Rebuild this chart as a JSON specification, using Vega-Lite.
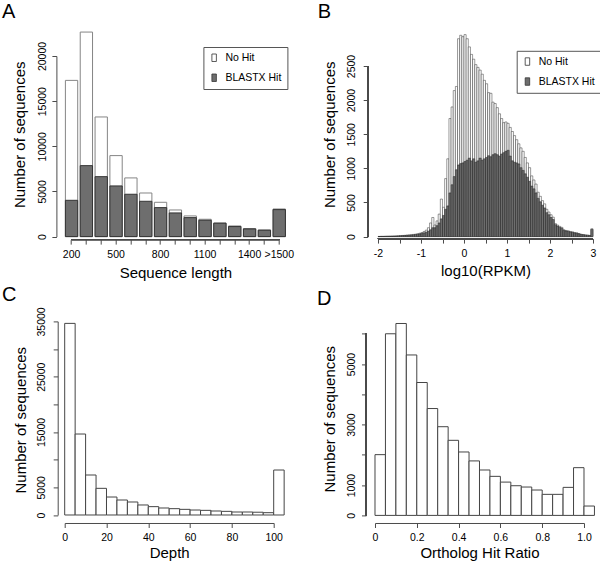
{
  "$schema": "https://vega.github.io/schema/vega-lite/v6.json",
  "background": "white",
  "padding": {"left": 1.7, "top": 2, "right": 2, "bottom": 2},
  "config": {
    "font": "Liberation Sans",
    "view": {"stroke": null},
    "axis": {
      "grid": false, "domainColor": "#4a4a4a", "tickColor": "#4a4a4a", "domainWidth": 1, "tickWidth": 1,
      "tickSize": 4.5, "labelColor": "black", "titleColor": "black",
      "labelFont": "Liberation Sans", "titleFont": "Liberation Sans",
      "labelFontSize": 10.5, "titleFontSize": 15, "titleFontWeight": "normal",
      "labelFlush": false, "labelOverlap": false, "labelBaseline": "alphabetic",
      "titleBaseline": "alphabetic", "titleAlign": "center"
    },
    "title": {"fontSize": 20, "fontWeight": "normal", "anchor": "start", "frame": "group", "baseline": "alphabetic", "color": "black", "font": "Liberation Sans"},
    "legend": {
      "labelFont": "Liberation Sans", "labelFontSize": 10.5, "labelColor": "black",
      "strokeColor": "#555", "fillColor": "white", "padding": 5.5, "rowPadding": 8, "labelOffset": 6,
      "symbolType": "M-0.6,-1H0.6V1H-0.6Z", "symbolSize": 56, "symbolStrokeColor": "#333", "symbolStrokeWidth": 0.8, "symbolOpacity": 1
    }
  },
  "datasets": {
    "lengths": [
      {"len": "200", "total": 17300, "hit": 4020},
      {"len": "300", "total": 22650, "hit": 7860},
      {"len": "400", "total": 13250, "hit": 6640},
      {"len": "500", "total": 8970, "hit": 5610},
      {"len": "600", "total": 6500, "hit": 4690},
      {"len": "700", "total": 4830, "hit": 3910},
      {"len": "800", "total": 3800, "hit": 3210},
      {"len": "900", "total": 2950, "hit": 2620},
      {"len": "1000", "total": 2290, "hit": 2100},
      {"len": "1100", "total": 1920, "hit": 1810},
      {"len": "1200", "total": 1510, "hit": 1480},
      {"len": "1300", "total": 1180, "hit": 1110},
      {"len": "1400", "total": 890, "hit": 850},
      {"len": "1500", "total": 740, "hit": 700},
      {"len": ">1500", "total": 3060, "hit": 2990}
    ],
    "rpkm": [
      {"lo": -2.00, "hi": -1.95, "total": 2, "hit": 2},
      {"lo": -1.95, "hi": -1.90, "total": 3, "hit": 3},
      {"lo": -1.90, "hi": -1.85, "total": 3, "hit": 3},
      {"lo": -1.85, "hi": -1.80, "total": 4, "hit": 4},
      {"lo": -1.80, "hi": -1.75, "total": 5, "hit": 5},
      {"lo": -1.75, "hi": -1.70, "total": 6, "hit": 5},
      {"lo": -1.70, "hi": -1.65, "total": 7, "hit": 6},
      {"lo": -1.65, "hi": -1.60, "total": 8, "hit": 7},
      {"lo": -1.60, "hi": -1.55, "total": 10, "hit": 8},
      {"lo": -1.55, "hi": -1.50, "total": 12, "hit": 10},
      {"lo": -1.50, "hi": -1.45, "total": 15, "hit": 12},
      {"lo": -1.45, "hi": -1.40, "total": 17, "hit": 14},
      {"lo": -1.40, "hi": -1.35, "total": 19, "hit": 16},
      {"lo": -1.35, "hi": -1.30, "total": 22, "hit": 18},
      {"lo": -1.30, "hi": -1.25, "total": 25, "hit": 20},
      {"lo": -1.25, "hi": -1.20, "total": 28, "hit": 23},
      {"lo": -1.20, "hi": -1.15, "total": 32, "hit": 26},
      {"lo": -1.15, "hi": -1.10, "total": 36, "hit": 30},
      {"lo": -1.10, "hi": -1.05, "total": 42, "hit": 34},
      {"lo": -1.05, "hi": -1.00, "total": 50, "hit": 40},
      {"lo": -1.00, "hi": -0.95, "total": 60, "hit": 46},
      {"lo": -0.95, "hi": -0.90, "total": 75, "hit": 55},
      {"lo": -0.90, "hi": -0.85, "total": 95, "hit": 65},
      {"lo": -0.85, "hi": -0.80, "total": 130, "hit": 80},
      {"lo": -0.80, "hi": -0.75, "total": 200, "hit": 100},
      {"lo": -0.75, "hi": -0.70, "total": 280, "hit": 130},
      {"lo": -0.70, "hi": -0.65, "total": 170, "hit": 130},
      {"lo": -0.65, "hi": -0.60, "total": 230, "hit": 160},
      {"lo": -0.60, "hi": -0.55, "total": 330, "hit": 200},
      {"lo": -0.55, "hi": -0.50, "total": 550, "hit": 260},
      {"lo": -0.50, "hi": -0.45, "total": 430, "hit": 310},
      {"lo": -0.45, "hi": -0.40, "total": 850, "hit": 400},
      {"lo": -0.40, "hi": -0.35, "total": 1140, "hit": 450},
      {"lo": -0.35, "hi": -0.30, "total": 1730, "hit": 640},
      {"lo": -0.30, "hi": -0.25, "total": 1900, "hit": 760},
      {"lo": -0.25, "hi": -0.20, "total": 2140, "hit": 880},
      {"lo": -0.20, "hi": -0.15, "total": 2200, "hit": 980},
      {"lo": -0.15, "hi": -0.10, "total": 2900, "hit": 1050},
      {"lo": -0.10, "hi": -0.05, "total": 2950, "hit": 1070},
      {"lo": -0.05, "hi": 0.00, "total": 2930, "hit": 1080},
      {"lo": 0.00, "hi": 0.05, "total": 2960, "hit": 1100},
      {"lo": 0.05, "hi": 0.10, "total": 2900, "hit": 1120},
      {"lo": 0.10, "hi": 0.15, "total": 2780, "hit": 1150},
      {"lo": 0.15, "hi": 0.20, "total": 2670, "hit": 1110},
      {"lo": 0.20, "hi": 0.25, "total": 2600, "hit": 1140},
      {"lo": 0.25, "hi": 0.30, "total": 2520, "hit": 1090},
      {"lo": 0.30, "hi": 0.35, "total": 2480, "hit": 1110},
      {"lo": 0.35, "hi": 0.40, "total": 2440, "hit": 1150},
      {"lo": 0.40, "hi": 0.45, "total": 2380, "hit": 1120},
      {"lo": 0.45, "hi": 0.50, "total": 2290, "hit": 1140},
      {"lo": 0.50, "hi": 0.55, "total": 2240, "hit": 1160},
      {"lo": 0.55, "hi": 0.60, "total": 2110, "hit": 1185},
      {"lo": 0.60, "hi": 0.65, "total": 2100, "hit": 1170},
      {"lo": 0.65, "hi": 0.70, "total": 1970, "hit": 1200},
      {"lo": 0.70, "hi": 0.75, "total": 1950, "hit": 1215},
      {"lo": 0.75, "hi": 0.80, "total": 1890, "hit": 1200},
      {"lo": 0.80, "hi": 0.85, "total": 1800, "hit": 1180},
      {"lo": 0.85, "hi": 0.90, "total": 1730, "hit": 1210},
      {"lo": 0.90, "hi": 0.95, "total": 1670, "hit": 1230},
      {"lo": 0.95, "hi": 1.00, "total": 1680, "hit": 1250},
      {"lo": 1.00, "hi": 1.05, "total": 1660, "hit": 1265},
      {"lo": 1.05, "hi": 1.10, "total": 1600, "hit": 1180},
      {"lo": 1.10, "hi": 1.15, "total": 1540, "hit": 1110},
      {"lo": 1.15, "hi": 1.20, "total": 1480, "hit": 1090},
      {"lo": 1.20, "hi": 1.25, "total": 1420, "hit": 1080},
      {"lo": 1.25, "hi": 1.30, "total": 1360, "hit": 1065},
      {"lo": 1.30, "hi": 1.35, "total": 1300, "hit": 1010},
      {"lo": 1.35, "hi": 1.40, "total": 1250, "hit": 970},
      {"lo": 1.40, "hi": 1.45, "total": 1160, "hit": 920},
      {"lo": 1.45, "hi": 1.50, "total": 1080, "hit": 870},
      {"lo": 1.50, "hi": 1.55, "total": 1010, "hit": 810},
      {"lo": 1.55, "hi": 1.60, "total": 890, "hit": 740},
      {"lo": 1.60, "hi": 1.65, "total": 830, "hit": 700},
      {"lo": 1.65, "hi": 1.70, "total": 770, "hit": 640},
      {"lo": 1.70, "hi": 1.75, "total": 650, "hit": 560},
      {"lo": 1.75, "hi": 1.80, "total": 590, "hit": 510},
      {"lo": 1.80, "hi": 1.85, "total": 527, "hit": 460},
      {"lo": 1.85, "hi": 1.90, "total": 480, "hit": 420},
      {"lo": 1.90, "hi": 1.95, "total": 400, "hit": 350},
      {"lo": 1.95, "hi": 2.00, "total": 360, "hit": 320},
      {"lo": 2.00, "hi": 2.05, "total": 320, "hit": 280},
      {"lo": 2.05, "hi": 2.10, "total": 285, "hit": 250},
      {"lo": 2.10, "hi": 2.15, "total": 190, "hit": 175},
      {"lo": 2.15, "hi": 2.20, "total": 170, "hit": 155},
      {"lo": 2.20, "hi": 2.25, "total": 150, "hit": 135},
      {"lo": 2.25, "hi": 2.30, "total": 135, "hit": 120},
      {"lo": 2.30, "hi": 2.35, "total": 100, "hit": 90},
      {"lo": 2.35, "hi": 2.40, "total": 90, "hit": 82},
      {"lo": 2.40, "hi": 2.45, "total": 85, "hit": 76},
      {"lo": 2.45, "hi": 2.50, "total": 75, "hit": 68},
      {"lo": 2.50, "hi": 2.55, "total": 70, "hit": 62},
      {"lo": 2.55, "hi": 2.60, "total": 60, "hit": 54},
      {"lo": 2.60, "hi": 2.65, "total": 55, "hit": 49},
      {"lo": 2.65, "hi": 2.70, "total": 45, "hit": 40},
      {"lo": 2.70, "hi": 2.75, "total": 35, "hit": 31},
      {"lo": 2.75, "hi": 2.80, "total": 30, "hit": 27},
      {"lo": 2.80, "hi": 2.85, "total": 25, "hit": 22},
      {"lo": 2.85, "hi": 2.90, "total": 22, "hit": 19},
      {"lo": 2.90, "hi": 2.95, "total": 18, "hit": 16},
      {"lo": 2.95, "hi": 3.00, "total": 115, "hit": 105}
    ],
    "depth": [
      {"lo": 0, "hi": 5, "n": 34640},
      {"lo": 5, "hi": 10, "n": 14640},
      {"lo": 10, "hi": 15, "n": 7230},
      {"lo": 15, "hi": 20, "n": 4820},
      {"lo": 20, "hi": 25, "n": 3250},
      {"lo": 25, "hi": 30, "n": 2710},
      {"lo": 30, "hi": 35, "n": 2350},
      {"lo": 35, "hi": 40, "n": 1810},
      {"lo": 40, "hi": 45, "n": 1510},
      {"lo": 45, "hi": 50, "n": 1265},
      {"lo": 50, "hi": 55, "n": 1145},
      {"lo": 55, "hi": 60, "n": 1020},
      {"lo": 60, "hi": 65, "n": 900},
      {"lo": 65, "hi": 70, "n": 840},
      {"lo": 70, "hi": 75, "n": 720},
      {"lo": 75, "hi": 80, "n": 660},
      {"lo": 80, "hi": 85, "n": 540},
      {"lo": 85, "hi": 90, "n": 540},
      {"lo": 90, "hi": 95, "n": 500},
      {"lo": 95, "hi": 100, "n": 420},
      {"lo": 100, "hi": 105, "n": 8130}
    ],
    "ratio": [
      {"lo": 0.00, "hi": 0.05, "n": 2007},
      {"lo": 0.05, "hi": 0.10, "n": 6000},
      {"lo": 0.10, "hi": 0.15, "n": 6340},
      {"lo": 0.15, "hi": 0.20, "n": 5300},
      {"lo": 0.20, "hi": 0.25, "n": 4390},
      {"lo": 0.25, "hi": 0.30, "n": 3530},
      {"lo": 0.30, "hi": 0.35, "n": 2930},
      {"lo": 0.35, "hi": 0.40, "n": 2480},
      {"lo": 0.40, "hi": 0.45, "n": 2095},
      {"lo": 0.45, "hi": 0.50, "n": 1800},
      {"lo": 0.50, "hi": 0.55, "n": 1500},
      {"lo": 0.55, "hi": 0.60, "n": 1290},
      {"lo": 0.60, "hi": 0.65, "n": 1100},
      {"lo": 0.65, "hi": 0.70, "n": 980},
      {"lo": 0.70, "hi": 0.75, "n": 937},
      {"lo": 0.75, "hi": 0.80, "n": 838},
      {"lo": 0.80, "hi": 0.85, "n": 695},
      {"lo": 0.85, "hi": 0.90, "n": 695},
      {"lo": 0.90, "hi": 0.95, "n": 926},
      {"lo": 0.95, "hi": 1.00, "n": 1577},
      {"lo": 1.00, "hi": 1.05, "n": 309}
    ]
  },
  "bounds": "flush",
  "align": "all",
  "columns": 2,
  "spacing": {"row": 71.4, "column": 88.3},
  "resolve": {"scale": {"color": "independent"}, "legend": {"color": "independent"}},
  "concat": [
    {
      "width": 221.4,
      "height": 180.6,
      "title": {"text": "A", "dx": -62.6, "offset": 9.5},
      "data": {"name": "lengths"},
      "layer": [
        {
          "mark": {"type": "bar", "stroke": "#858585", "strokeWidth": 1},
          "encoding": {
            "x": {"field": "len", "type": "nominal", "sort": null,
              "scale": {"paddingInner": 0.17, "paddingOuter": 0.047},
              "axis": {"title": "Sequence length", "domain": false, "offset": 3, "bandPosition": 0.5, "labelAngle": 0,
                "labelPadding": 13, "titleY": 37.5, "labelOverlap": false,
                "labelExpr": "indexof(['200','500','800','1100','1400','>1500'], datum.value) >= 0 ? datum.value : ''"}},
            "y": {"field": "total", "type": "quantitative",
              "scale": {"domain": [0, 20000], "nice": false},
              "axis": {"title": "Number of sequences", "values": [0, 5000, 10000, 15000, 20000], "format": "d",
                "offset": 8.3, "labelAngle": -90, "labelAlign": "center", "labelPadding": 6.5, "labelOverlap": false,
                "titleAngle": -90, "titleX": -31.5, "titleY": 78.3}},
            "color": {"datum": "No Hit", "type": "nominal",
              "scale": {"domain": ["No Hit", "BLASTX Hit"], "range": ["#ffffff", "#6e6e6e"]},
              "legend": {"title": null, "orient": "none", "legendX": 138.7, "legendY": -9}}
          }
        },
        {
          "mark": {"type": "bar", "stroke": "#333333", "strokeWidth": 1},
          "encoding": {
            "x": {"field": "len", "type": "nominal", "sort": null},
            "y": {"field": "hit", "type": "quantitative", "axis": {"title": "Number of sequences", "values": [0, 5000, 10000, 15000, 20000], "format": "d",
                "offset": 8.3, "labelAngle": -90, "labelAlign": "center", "labelPadding": 6.5, "labelOverlap": false,
                "titleAngle": -90, "titleX": -31.5, "titleY": 78.3}},
            "color": {"datum": "BLASTX Hit", "type": "nominal"}
          }
        },
        {
          "mark": {"type": "rule", "color": "#4a4a4a", "strokeWidth": 1},
          "encoding": {
            "x": {"datum": "200", "bandPosition": 0.5},
            "x2": {"datum": ">1500", "bandPosition": 0.5},
            "y": {"datum": -332, "axis": {"title": "Number of sequences", "values": [0, 5000, 10000, 15000, 20000], "format": "d",
                "offset": 8.3, "labelAngle": -90, "labelAlign": "center", "labelPadding": 6.5, "labelOverlap": false,
                "titleAngle": -90, "titleX": -31.5, "titleY": 78.3}}
          }
        }
      ]
    },
    {
      "width": 218,
      "height": 180.6,
      "title": {"text": "B", "dx": -57.3, "offset": 12},
      "data": {"name": "rpkm"},
      "layer": [
        {
          "mark": {"type": "bar", "stroke": "#333333", "strokeWidth": 0.5},
          "encoding": {
            "x": {"field": "lo", "type": "quantitative",
              "scale": {"domain": [-2.0698, 3], "nice": false, "zero": false},
              "axis": {"title": "log10(RPKM)", "domain": false, "offset": 2, "values": [-2, -1.5, -1, -0.5, 0, 0.5, 1, 1.5, 2, 2.5, 3],
                "labelPadding": 13, "titleY": 36.5, "titleX": 110.5, "labelOverlap": false,
                "labelExpr": "datum.value % 1 === 0 ? '' + datum.value : ''"}},
            "x2": {"field": "hi"},
            "y": {"field": "total", "type": "quantitative",
              "scale": {"domain": [0, 2646.5], "nice": false},
              "axis": {"title": "Number of sequences", "values": [0, 500, 1000, 1500, 2000, 2500], "format": "d",
                "domain": false, "offset": 7.3, "labelAngle": -90, "labelAlign": "center", "labelPadding": 8.5, "labelOverlap": false,
                "titleAngle": -90, "titleX": -33, "titleY": 78.3}},
            "y2": {"datum": 0},
            "color": {"datum": "No Hit", "type": "nominal",
              "scale": {"domain": ["No Hit", "BLASTX Hit"], "range": ["#ffffff", "#6e6e6e"]},
              "legend": {"title": null, "orient": "none", "legendX": 141.7, "legendY": -5.2}}
          }
        },
        {
          "mark": {"type": "bar", "stroke": "#222222", "strokeWidth": 0.5},
          "encoding": {
            "x": {"field": "lo", "type": "quantitative", "axis": {"title": "log10(RPKM)", "domain": false, "offset": 2, "values": [-2, -1.5, -1, -0.5, 0, 0.5, 1, 1.5, 2, 2.5, 3],
                "labelPadding": 13, "titleY": 36.5, "titleX": 110.5, "labelOverlap": false,
                "labelExpr": "datum.value % 1 === 0 ? '' + datum.value : ''"}},
            "x2": {"field": "hi"},
            "y": {"field": "hit", "type": "quantitative", "axis": {"title": "Number of sequences", "values": [0, 500, 1000, 1500, 2000, 2500], "format": "d",
                "domain": false, "offset": 7.3, "labelAngle": -90, "labelAlign": "center", "labelPadding": 8.5, "labelOverlap": false,
                "titleAngle": -90, "titleX": -33, "titleY": 78.3}},
            "y2": {"datum": 0},
            "color": {"datum": "BLASTX Hit", "type": "nominal"}
          }
        },
        {
          "mark": {"type": "rule", "color": "#4a4a4a", "strokeWidth": 1},
          "encoding": {
            "x": {"datum": -2.2395, "axis": {"title": "log10(RPKM)", "domain": false, "offset": 2, "values": [-2, -1.5, -1, -0.5, 0, 0.5, 1, 1.5, 2, 2.5, 3],
                "labelPadding": 13, "titleY": 36.5, "titleX": 110.5, "labelOverlap": false,
                "labelExpr": "datum.value % 1 === 0 ? '' + datum.value : ''"}},
            "y": {"datum": 0, "axis": {"title": "Number of sequences", "values": [0, 500, 1000, 1500, 2000, 2500], "format": "d",
                "domain": false, "offset": 7.3, "labelAngle": -90, "labelAlign": "center", "labelPadding": 8.5, "labelOverlap": false,
                "titleAngle": -90, "titleX": -33, "titleY": 78.3}},
            "y2": {"datum": 2500}
          }
        },
        {
          "mark": {"type": "rule", "color": "#4a4a4a", "strokeWidth": 1},
          "encoding": {
            "x": {"datum": -2, "axis": {"title": "log10(RPKM)", "domain": false, "offset": 2, "values": [-2, -1.5, -1, -0.5, 0, 0.5, 1, 1.5, 2, 2.5, 3],
                "labelPadding": 13, "titleY": 36.5, "titleX": 110.5, "labelOverlap": false,
                "labelExpr": "datum.value % 1 === 0 ? '' + datum.value : ''"}},
            "x2": {"datum": 3},
            "y": {"datum": -29.3, "axis": {"title": "Number of sequences", "values": [0, 500, 1000, 1500, 2000, 2500], "format": "d",
                "domain": false, "offset": 7.3, "labelAngle": -90, "labelAlign": "center", "labelPadding": 8.5, "labelOverlap": false,
                "titleAngle": -90, "titleX": -33, "titleY": 78.3}}
          }
        }
      ]
    },
    {
      "width": 209,
      "height": 193.6,
      "title": {"text": "C", "dx": -62.6, "offset": 1.5},
      "data": {"name": "depth"},
      "mark": {"type": "bar", "fill": "#ffffff", "stroke": "#444444", "strokeWidth": 1},
      "encoding": {
        "x": {"field": "lo", "type": "quantitative",
          "scale": {"domain": [0, 100], "nice": false, "zero": false},
          "axis": {"title": "Depth", "offset": 8, "values": [0, 20, 40, 60, 80, 100], "format": "d",
            "labelPadding": 13, "titleY": 35, "labelOverlap": false}},
        "x2": {"field": "hi"},
        "y": {"field": "n", "type": "quantitative",
          "scale": {"domain": [0, 35000], "nice": false},
          "axis": {"title": "Number of sequences", "values": [0, 5000, 10000, 15000, 20000, 25000, 30000, 35000],
            "offset": 7, "labelAngle": -90, "labelAlign": "center", "labelPadding": 8.5, "labelOverlap": false,
            "labelExpr": "indexof([0, 5000, 15000, 25000, 35000], datum.value) >= 0 ? format(datum.value, 'd') : ''",
            "titleAngle": -90, "titleX": -32, "titleY": 98.3}},
        "y2": {"datum": 0}
      }
    },
    {
      "width": 209,
      "height": 194,
      "title": {"text": "D", "dx": -58, "offset": 12.8},
      "data": {"name": "ratio"},
      "layer": [
        {
          "mark": {"type": "bar", "fill": "#ffffff", "stroke": "#444444", "strokeWidth": 1},
          "encoding": {
            "x": {"field": "lo", "type": "quantitative",
              "scale": {"domain": [0, 1], "nice": false, "zero": false},
              "axis": {"title": "Ortholog Hit Ratio", "offset": 7.6, "values": [0, 0.2, 0.4, 0.6, 0.8, 1],
                "labelPadding": 13, "titleY": 35, "labelOverlap": false,
                "labelExpr": "datum.value === 0 ? '0' : format(datum.value, '.1f')"}},
            "x2": {"field": "hi"},
            "y": {"field": "n", "type": "quantitative",
              "scale": {"domain": [0, 6409], "nice": false},
              "axis": {"title": "Number of sequences", "values": [0, 1000, 2000, 3000, 4000, 5000, 6000],
                "domain": false, "offset": 9, "labelAngle": -90, "labelAlign": "center", "labelPadding": 7, "labelOverlap": false,
                "labelExpr": "indexof([0, 1000, 3000, 5000], datum.value) >= 0 ? format(datum.value, 'd') : ''",
                "titleAngle": -90, "titleX": -31, "titleY": 97.3}},
            "y2": {"datum": 0}
          }
        },
        {
          "mark": {"type": "rule", "color": "#4a4a4a", "strokeWidth": 1},
          "encoding": {
            "x": {"datum": -0.04306, "axis": {"title": "Ortholog Hit Ratio", "offset": 7.6, "values": [0, 0.2, 0.4, 0.6, 0.8, 1],
                "labelPadding": 13, "titleY": 35, "labelOverlap": false,
                "labelExpr": "datum.value === 0 ? '0' : format(datum.value, '.1f')"}},
            "y": {"datum": 0, "axis": {"title": "Number of sequences", "values": [0, 1000, 2000, 3000, 4000, 5000, 6000],
                "domain": false, "offset": 9, "labelAngle": -90, "labelAlign": "center", "labelPadding": 7, "labelOverlap": false,
                "labelExpr": "indexof([0, 1000, 3000, 5000], datum.value) >= 0 ? format(datum.value, 'd') : ''",
                "titleAngle": -90, "titleX": -31, "titleY": 97.3}},
            "y2": {"datum": 6000}
          }
        }
      ]
    }
  ]
}
